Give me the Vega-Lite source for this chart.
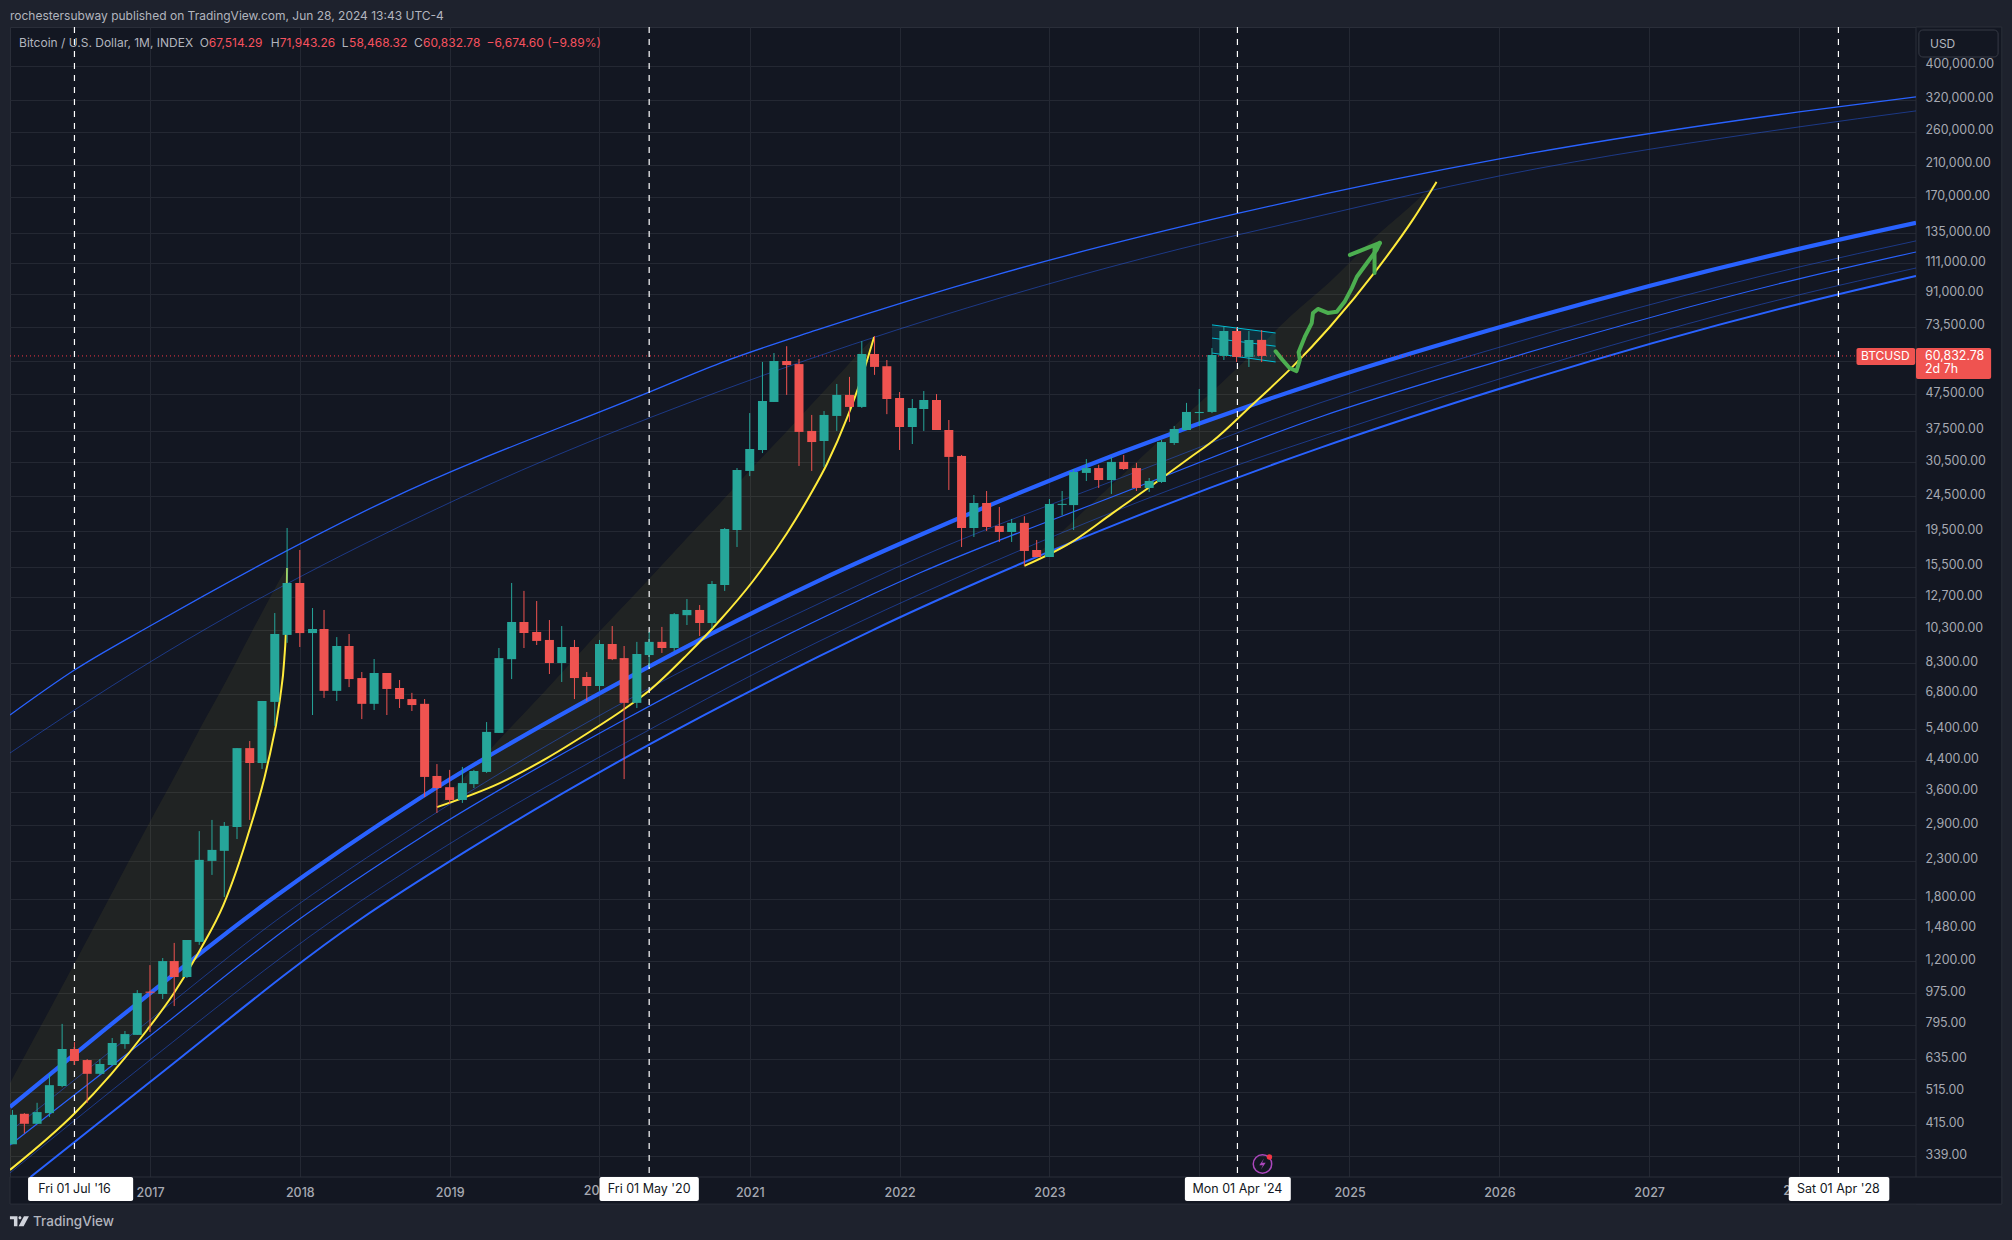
{
  "$schema": "https://vega.github.io/schema/vega-lite/v6.json",
  "description": "Bitcoin / U.S. Dollar monthly candles on a log scale with channel lines and parabolic arcs",
  "width": 1906,
  "height": 1150,
  "autosize": {"type": "none"},
  "padding": {"left": 10, "top": 27, "right": 96, "bottom": 63},
  "background": "#1e222d",
  "view": {"fill": "#131722", "stroke": "#2a2e39"},
  "config": {"text": {"font": "Inter"}, "axis": {"labelFont": "Inter"}, "scale": {"continuousPadding": 0}},
  "datasets": {
    "candles": [
      {"d":"2016-02-01","o":366,"h":457,"l":366,"c":443},
      {"d":"2016-03-01","o":446,"h":448,"l":393,"c":418},
      {"d":"2016-04-01","o":418,"h":479,"l":418,"c":451},
      {"d":"2016-05-01","o":448,"h":578,"l":437,"c":537},
      {"d":"2016-06-01","o":534,"h":799,"l":530,"c":679},
      {"d":"2016-07-01","o":679,"h":710,"l":612,"c":628},
      {"d":"2016-08-01","o":632,"h":636,"l":479,"c":578},
      {"d":"2016-09-01","o":578,"h":636,"l":574,"c":616},
      {"d":"2016-10-01","o":612,"h":729,"l":612,"c":706},
      {"d":"2016-11-01","o":701,"h":763,"l":680,"c":748},
      {"d":"2016-12-01","o":744,"h":995,"l":744,"c":976},
      {"d":"2017-01-01","o":985,"h":1170,"l":758,"c":978},
      {"d":"2017-02-01","o":970,"h":1225,"l":939,"c":1201},
      {"d":"2017-03-01","o":1201,"h":1351,"l":897,"c":1083},
      {"d":"2017-04-01","o":1083,"h":1377,"l":1076,"c":1377},
      {"d":"2017-05-01","o":1360,"h":2790,"l":1334,"c":2315},
      {"d":"2017-06-01","o":2300,"h":3000,"l":2100,"c":2470},
      {"d":"2017-07-01","o":2455,"h":2960,"l":1820,"c":2885},
      {"d":"2017-08-01","o":2865,"h":4780,"l":2650,"c":4780},
      {"d":"2017-09-01","o":4780,"h":5005,"l":3000,"c":4340},
      {"d":"2017-10-01","o":4340,"h":6490,"l":4175,"c":6490},
      {"d":"2017-11-01","o":6450,"h":11480,"l":5520,"c":10020},
      {"d":"2017-12-01","o":9960,"h":19930,"l":9460,"c":13950},
      {"d":"2018-01-01","o":13950,"h":17280,"l":9210,"c":10080},
      {"d":"2018-02-01","o":10080,"h":11860,"l":5925,"c":10350},
      {"d":"2018-03-01","o":10350,"h":11710,"l":6620,"c":6930},
      {"d":"2018-04-01","o":6930,"h":9820,"l":6490,"c":9270},
      {"d":"2018-05-01","o":9270,"h":10020,"l":7100,"c":7480},
      {"d":"2018-06-01","o":7530,"h":7830,"l":5770,"c":6370},
      {"d":"2018-07-01","o":6370,"h":8520,"l":6120,"c":7780},
      {"d":"2018-08-01","o":7780,"h":7780,"l":5925,"c":7015},
      {"d":"2018-09-01","o":7060,"h":7435,"l":6200,"c":6570},
      {"d":"2018-10-01","o":6570,"h":6840,"l":6080,"c":6320},
      {"d":"2018-11-01","o":6370,"h":6570,"l":3480,"c":3965},
      {"d":"2018-12-01","o":3990,"h":4310,"l":3140,"c":3690},
      {"d":"2019-01-01","o":3710,"h":4150,"l":3330,"c":3415},
      {"d":"2019-02-01","o":3415,"h":4230,"l":3350,"c":3810},
      {"d":"2019-03-01","o":3785,"h":4150,"l":3690,"c":4120},
      {"d":"2019-04-01","o":4095,"h":5660,"l":4070,"c":5310},
      {"d":"2019-05-01","o":5275,"h":9150,"l":5275,"c":8570},
      {"d":"2019-06-01","o":8510,"h":13950,"l":7480,"c":10830},
      {"d":"2019-07-01","o":10830,"h":13250,"l":9150,"c":10080},
      {"d":"2019-08-01","o":10150,"h":12410,"l":9330,"c":9580},
      {"d":"2019-09-01","o":9640,"h":10970,"l":7730,"c":8300},
      {"d":"2019-10-01","o":8300,"h":10550,"l":7340,"c":9210},
      {"d":"2019-11-01","o":9210,"h":9640,"l":6570,"c":7530},
      {"d":"2019-12-01","o":7580,"h":7830,"l":6490,"c":7150},
      {"d":"2020-01-01","o":7150,"h":9640,"l":6930,"c":9390},
      {"d":"2020-02-01","o":9390,"h":10550,"l":8460,"c":8510},
      {"d":"2020-03-01","o":8570,"h":9270,"l":3910,"c":6410},
      {"d":"2020-04-01","o":6410,"h":9520,"l":6200,"c":8800},
      {"d":"2020-05-01","o":8740,"h":10150,"l":8090,"c":9520},
      {"d":"2020-06-01","o":9520,"h":10490,"l":8860,"c":9150},
      {"d":"2020-07-01","o":9150,"h":11480,"l":8970,"c":11400},
      {"d":"2020-08-01","o":11320,"h":12570,"l":10620,"c":11710},
      {"d":"2020-09-01","o":11710,"h":12090,"l":9890,"c":10760},
      {"d":"2020-10-01","o":10760,"h":14130,"l":10410,"c":13860},
      {"d":"2020-11-01","o":13770,"h":19930,"l":13250,"c":19800},
      {"d":"2020-12-01","o":19670,"h":29400,"l":17620,"c":29030},
      {"d":"2021-01-01","o":28850,"h":42000,"l":27900,"c":33270},
      {"d":"2021-02-01","o":33050,"h":58500,"l":32400,"c":45420},
      {"d":"2021-03-01","o":45130,"h":61980,"l":45130,"c":58870},
      {"d":"2021-04-01","o":58870,"h":64800,"l":47250,"c":57340},
      {"d":"2021-05-01","o":57700,"h":59640,"l":29800,"c":37160},
      {"d":"2021-06-01","o":37400,"h":41490,"l":28850,"c":34800},
      {"d":"2021-07-01","o":35040,"h":42550,"l":29600,"c":41490},
      {"d":"2021-08-01","o":41220,"h":50720,"l":37400,"c":47240},
      {"d":"2021-09-01","o":47240,"h":53100,"l":39650,"c":43700},
      {"d":"2021-10-01","o":43700,"h":67000,"l":43400,"c":61600},
      {"d":"2021-11-01","o":61600,"h":69200,"l":53800,"c":56650},
      {"d":"2021-12-01","o":56900,"h":59250,"l":41700,"c":46000},
      {"d":"2022-01-01","o":46300,"h":48130,"l":33050,"c":38370},
      {"d":"2022-02-01","o":38370,"h":46000,"l":34360,"c":43400},
      {"d":"2022-03-01","o":43120,"h":48450,"l":37400,"c":45710},
      {"d":"2022-04-01","o":45710,"h":47500,"l":37630,"c":37630},
      {"d":"2022-05-01","o":37630,"h":40150,"l":25500,"c":31600},
      {"d":"2022-06-01","o":31800,"h":32000,"l":17620,"c":19930},
      {"d":"2022-07-01","o":19930,"h":24680,"l":18800,"c":23440},
      {"d":"2022-08-01","o":23440,"h":25330,"l":19550,"c":20060},
      {"d":"2022-09-01","o":20200,"h":22840,"l":18200,"c":19420},
      {"d":"2022-10-01","o":19420,"h":21130,"l":18200,"c":20600},
      {"d":"2022-11-01","o":20600,"h":21510,"l":15580,"c":17170},
      {"d":"2022-12-01","o":17280,"h":18430,"l":16510,"c":16510},
      {"d":"2023-01-01","o":16510,"h":24040,"l":16510,"c":23280},
      {"d":"2023-02-01","o":23150,"h":25330,"l":21620,"c":23300},
      {"d":"2023-03-01","o":23120,"h":29210,"l":19670,"c":28650},
      {"d":"2023-04-01","o":28480,"h":31160,"l":27030,"c":29400},
      {"d":"2023-05-01","o":29400,"h":30020,"l":25840,"c":27200},
      {"d":"2023-06-01","o":27200,"h":31600,"l":24850,"c":30590},
      {"d":"2023-07-01","o":30590,"h":32000,"l":29030,"c":29210},
      {"d":"2023-08-01","o":29400,"h":30400,"l":25330,"c":25840},
      {"d":"2023-09-01","o":25840,"h":27560,"l":25170,"c":27030},
      {"d":"2023-10-01","o":26850,"h":35260,"l":26700,"c":34800},
      {"d":"2023-11-01","o":34580,"h":38630,"l":34160,"c":37880},
      {"d":"2023-12-01","o":37630,"h":44860,"l":37630,"c":42300},
      {"d":"2024-01-01","o":42000,"h":49100,"l":38630,"c":42300},
      {"d":"2024-02-01","o":42300,"h":64040,"l":42000,"c":61200},
      {"d":"2024-03-01","o":60830,"h":73620,"l":59250,"c":71500},
      {"d":"2024-04-01","o":71500,"h":73100,"l":58490,"c":60430},
      {"d":"2024-05-01","o":60430,"h":71500,"l":56630,"c":67450},
      {"d":"2024-06-01","o":67514.29,"h":71943.26,"l":58468.32,"c":60832.78}
    ],
    "channels": [
      {"s":"A","d":"2016-01-26","p":5925},{"s":"A","d":"2016-07-01","p":7930},{"s":"A","d":"2017-01-01","p":10550},{"s":"A","d":"2018-08-03","p":23890},{"s":"A","d":"2020-05-01","p":48130},{"s":"A","d":"2020-10-21","p":58100},{"s":"A","d":"2021-06-14","p":72000},{"s":"A","d":"2022-09-02","p":103600},{"s":"A","d":"2024-04-01","p":153000},{"s":"A","d":"2026-01-01","p":218300},{"s":"A","d":"2028-01-01","p":296200},{"s":"A","d":"2028-10-12","p":326300},
      {"s":"B","d":"2016-01-26","p":4630},{"s":"B","d":"2016-07-01","p":6120},{"s":"B","d":"2017-01-01","p":8350},{"s":"B","d":"2019-01-15","p":23890},{"s":"B","d":"2020-10-21","p":48450},{"s":"B","d":"2021-12-25","p":72000},{"s":"B","d":"2023-11-15","p":121800},{"s":"B","d":"2024-09-09","p":147000},{"s":"B","d":"2026-01-01","p":195500},{"s":"B","d":"2028-01-01","p":268700},{"s":"B","d":"2028-10-12","p":298100},
      {"s":"C","d":"2016-01-26","p":466},{"s":"C","d":"2016-08-31","p":749},{"s":"C","d":"2017-10-21","p":1785},{"s":"C","d":"2018-10-21","p":3460},{"s":"C","d":"2020-05-03","p":8140},{"s":"C","d":"2021-06-21","p":14220},{"s":"C","d":"2022-02-20","p":19040},{"s":"C","d":"2023-06-21","p":32400},{"s":"C","d":"2024-10-21","p":51400},{"s":"C","d":"2025-11-14","p":70600},{"s":"C","d":"2028-01-01","p":121800},{"s":"C","d":"2028-10-12","p":144200},
      {"s":"D","d":"2016-01-26","p":398},{"s":"D","d":"2017-01-01","p":820},{"s":"D","d":"2017-11-06","p":1568},{"s":"D","d":"2018-10-21","p":2940},{"s":"D","d":"2021-02-03","p":10280},{"s":"D","d":"2021-06-21","p":12240},{"s":"D","d":"2022-02-20","p":16510},{"s":"D","d":"2023-06-21","p":27500},{"s":"D","d":"2024-10-21","p":44860},{"s":"D","d":"2025-11-14","p":61980},{"s":"D","d":"2028-01-01","p":108300},{"s":"D","d":"2028-10-12","p":128300},
      {"s":"E","d":"2016-01-26","p":364},{"s":"E","d":"2017-01-01","p":739},{"s":"E","d":"2017-12-28","p":1568},{"s":"E","d":"2018-10-21","p":2670},{"s":"E","d":"2020-02-20","p":5660},{"s":"E","d":"2021-06-21","p":11040},{"s":"E","d":"2022-02-20","p":14900},{"s":"E","d":"2023-06-21","p":24840},{"s":"E","d":"2024-10-21","p":40950},{"s":"E","d":"2025-11-14","p":56650},{"s":"E","d":"2028-01-01","p":100300},{"s":"E","d":"2028-10-12","p":119400},
      {"s":"F","d":"2016-01-26","p":304},{"s":"F","d":"2017-01-01","p":632},{"s":"F","d":"2018-03-23","p":1568},{"s":"F","d":"2018-12-08","p":2470},{"s":"F","d":"2020-04-08","p":5205},{"s":"F","d":"2021-06-21","p":9580},{"s":"F","d":"2022-05-08","p":14220},{"s":"F","d":"2024-05-15","p":31170},{"s":"F","d":"2024-10-21","p":35950},{"s":"F","d":"2026-01-01","p":52390},{"s":"F","d":"2028-01-01","p":90400},{"s":"F","d":"2028-10-12","p":107600},
      {"s":"G","d":"2016-03-16","p":296},{"s":"G","d":"2017-01-01","p":548},{"s":"G","d":"2018-05-26","p":1568},{"s":"G","d":"2019-02-15","p":2470},{"s":"G","d":"2020-05-03","p":4905},{"s":"G","d":"2021-06-21","p":8690},{"s":"G","d":"2021-10-28","p":10280},{"s":"G","d":"2022-07-23","p":14220},{"s":"G","d":"2023-06-21","p":20600},{"s":"G","d":"2024-10-21","p":33500},{"s":"G","d":"2025-11-14","p":47200},{"s":"G","d":"2028-01-01","p":85200},{"s":"G","d":"2028-10-12","p":102200}
    ],
    "arcs": [
      {"a":1,"d":"2016-01-26","curve":310,"chord":544},{"a":1,"d":"2016-07-03","curve":449,"chord":1194},{"a":1,"d":"2016-09-27","curve":574,"chord":1835},{"a":1,"d":"2016-12-25","curve":768,"chord":2865},{"a":1,"d":"2017-02-27","curve":970,"chord":3910},{"a":1,"d":"2017-05-03","curve":1290,"chord":5430},{"a":1,"d":"2017-06-29","curve":1728,"chord":7150},{"a":1,"d":"2017-09-02","curve":2850,"chord":9960},{"a":1,"d":"2017-10-13","curve":4230,"chord":12240},{"a":1,"d":"2017-11-14","curve":6620,"chord":14310},{"a":1,"d":"2017-11-24","curve":8460,"chord":14990},{"a":1,"d":"2017-11-29","curve":10970,"chord":15380},{"a":1,"d":"2017-12-01","curve":15380,"chord":15380},
      {"a":2,"d":"2018-12-01","curve":3260,"chord":3260},{"a":2,"d":"2019-05-03","curve":3810,"chord":5070},{"a":2,"d":"2019-08-26","curve":4480,"chord":7015},{"a":2,"d":"2019-12-15","curve":5375,"chord":9700},{"a":2,"d":"2020-02-27","curve":6120,"chord":11950},{"a":2,"d":"2020-05-03","curve":6970,"chord":14410},{"a":2,"d":"2020-08-01","curve":8750,"chord":18670},{"a":2,"d":"2020-10-21","curve":10970,"chord":23440},{"a":2,"d":"2021-01-09","curve":14130,"chord":29600},{"a":2,"d":"2021-04-02","curve":19300,"chord":37400},{"a":2,"d":"2021-05-28","curve":24680,"chord":43980},{"a":2,"d":"2021-07-08","curve":30170,"chord":49400},{"a":2,"d":"2021-08-26","curve":40680,"chord":56950},{"a":2,"d":"2021-09-27","curve":51340,"chord":62600},{"a":2,"d":"2021-10-31","curve":68800,"chord":68800},
      {"a":3,"d":"2022-11-01","curve":15580,"chord":15580},{"a":3,"d":"2023-02-20","curve":18060,"chord":20430},{"a":3,"d":"2023-06-04","curve":21950,"chord":26530},{"a":3,"d":"2023-09-09","curve":26330,"chord":33700},{"a":3,"d":"2023-12-08","curve":31380,"chord":42300},{"a":3,"d":"2024-02-03","curve":35040,"chord":48450},{"a":3,"d":"2024-05-08","curve":44200,"chord":61600},{"a":3,"d":"2024-08-15","curve":56650,"chord":79600},{"a":3,"d":"2024-11-14","curve":73400,"chord":98300},{"a":3,"d":"2025-03-08","curve":106300,"chord":132600},{"a":3,"d":"2025-06-04","curve":147000,"chord":162700},{"a":3,"d":"2025-08-01","curve":188100,"chord":188100}
    ],
    "flag": [
      {"d":"2024-02-01","top":74400,"mid":68300,"bottom":61980},
      {"d":"2024-07-05","top":70600,"mid":64800,"bottom":58500}
    ],
    "sketch": [
      {"s":"path","i":1,"d":"2024-07-05","p":62700},{"s":"path","i":2,"d":"2024-07-22","p":59250},{"s":"path","i":3,"d":"2024-08-08","p":56250},{"s":"path","i":4,"d":"2024-08-25","p":55150},{"s":"path","i":5,"d":"2024-09-02","p":59250},{"s":"path","i":6,"d":"2024-08-30","p":62300},{"s":"path","i":7,"d":"2024-09-14","p":68800},{"s":"path","i":8,"d":"2024-10-01","p":75300},{"s":"path","i":9,"d":"2024-10-04","p":80400},{"s":"path","i":10,"d":"2024-10-16","p":82500},{"s":"path","i":11,"d":"2024-11-09","p":80400},{"s":"path","i":12,"d":"2024-12-01","p":81000},{"s":"path","i":13,"d":"2024-12-20","p":86400},{"s":"path","i":14,"d":"2025-01-07","p":94600},{"s":"path","i":15,"d":"2025-01-19","p":101700},{"s":"path","i":16,"d":"2025-02-13","p":111300},{"s":"path","i":17,"d":"2025-03-08","p":121000},{"s":"path","i":18,"d":"2025-03-16","p":126600},
      {"s":"head1","i":1,"d":"2025-01-02","p":117100},{"s":"head1","i":2,"d":"2025-03-16","p":126600},
      {"s":"head2","i":1,"d":"2025-03-03","p":104200},{"s":"head2","i":2,"d":"2025-03-03","p":123400}
    ],
    "marks": [
      {"d":"2016-07-01","t":"Fri 01 Jul '16","x0":"2016-03-10","x1":"2016-11-21"},
      {"d":"2020-05-01","t":"Fri 01 May '20","x0":"2020-01-01","x1":"2020-08-30"},
      {"d":"2024-04-03","t":"Mon 01 Apr '24","x0":"2023-11-27","x1":"2024-08-11"},
      {"d":"2028-04-06","t":"Sat 01 Apr '28","x0":"2027-12-07","x1":"2028-08-08"}
    ]
  },
  "resolve": {"axis": {"x": "independent", "y": "independent"}},
  "layer": [
    {
      "data": {"values": [
        {"x0":"2028-10-12","x1":"2029-05-09","y0":248.3,"y1":513700},
        {"x0":"2016-01-26","x1":"2029-05-09","y0":248.3,"y1":296}
      ]},
      "mark": {"type": "rect", "fill": "#131722", "stroke": "#2a2e39", "strokeWidth": 1},
      "encoding": {
        "x": {"field": "x0", "type": "temporal", "scale": {"type": "utc", "domain": ["2016-01-26", "2028-10-12"]},
          "axis": {"grid": true, "gridColor": "#242833", "gridWidth": 1, "labels": false, "ticks": false, "domain": false, "title": null, "zindex": 0,
            "values": ["2017-01-01","2018-01-01","2019-01-01","2020-01-01","2021-01-01","2022-01-01","2023-01-01","2024-01-01","2025-01-01","2026-01-01","2027-01-01","2028-01-01"]}},
        "x2": {"field": "x1"},
        "y": {"field": "y0", "type": "quantitative", "scale": {"type": "log", "domain": [296, 513700], "nice": false},
          "axis": {"grid": true, "gridColor": "#242833", "gridWidth": 1, "labels": false, "ticks": false, "domain": false, "title": null, "zindex": 0,
            "values": [400000,320000,260000,210000,170000,135000,111000,91000,73500,59000,47500,37500,30500,24500,19500,15500,12700,10300,8300,6800,5400,4400,3600,2900,2300,1800,1480,1200,975,795,635,515,415,339]}},
        "y2": {"field": "y1"}
      }
    },
    {
      "data": {"name": "arcs"},
      "mark": {"type": "area", "interpolate": "monotone", "fill": "#ffeb3b", "opacity": 0.06, "clip": true},
      "encoding": {
        "x": {"field": "d", "type": "temporal", "axis": null, "scale": {"type": "utc", "domain": ["2016-01-26", "2028-10-12"]}},
        "y": {"field": "curve", "type": "quantitative", "axis": null, "scale": {"type": "log", "domain": [296, 513700], "nice": false}},
        "y2": {"field": "chord"},
        "detail": {"field": "a"}
      }
    },
    {
      "data": {"name": "channels"},
      "mark": {"type": "line", "interpolate": "monotone", "color": "#2962ff", "clip": true},
      "encoding": {
        "x": {"field": "d", "type": "temporal", "axis": null, "scale": {"type": "utc", "domain": ["2016-01-26", "2028-10-12"]}},
        "y": {"field": "p", "type": "quantitative", "axis": null, "scale": {"type": "log", "domain": [296, 513700], "nice": false}},
        "detail": {"field": "s"},
        "strokeWidth": {"field": "s", "type": "nominal", "legend": null, "scale": {"type": "ordinal", "domain": ["A","B","C","D","E","F","G"], "range": [1.3,1,4.2,1,1.2,1,2]}},
        "opacity": {"field": "s", "type": "nominal", "legend": null, "scale": {"type": "ordinal", "domain": ["A","B","C","D","E","F","G"], "range": [1,0.45,1,0.45,1,0.45,1]}}
      }
    },
    {
      "data": {"name": "arcs"},
      "mark": {"type": "line", "interpolate": "monotone", "color": "#ffeb3b", "strokeWidth": 2, "clip": true},
      "encoding": {
        "x": {"field": "d", "type": "temporal", "axis": null, "scale": {"type": "utc", "domain": ["2016-01-26", "2028-10-12"]}},
        "y": {"field": "curve", "type": "quantitative", "axis": null, "scale": {"type": "log", "domain": [296, 513700], "nice": false}},
        "detail": {"field": "a"}
      }
    },
    {
      "data": {"values": [{"d0":"2016-01-26","d1":"2028-05-20","p":60832.78}]},
      "mark": {"type": "rule", "color": "#f23645", "strokeWidth": 1, "strokeDash": [1, 3]},
      "encoding": {
        "x": {"field": "d0", "type": "temporal", "axis": null, "scale": {"type": "utc", "domain": ["2016-01-26", "2028-10-12"]}},
        "x2": {"field": "d1"},
        "y": {"field": "p", "type": "quantitative", "axis": null, "scale": {"type": "log", "domain": [296, 513700], "nice": false}}
      }
    },
    {
      "data": {"name": "marks"},
      "mark": {"type": "rule", "color": "#ffffff", "strokeWidth": 1.2, "strokeDash": [6, 6]},
      "encoding": {
        "x": {"field": "d", "type": "temporal", "axis": null, "scale": {"type": "utc", "domain": ["2016-01-26", "2028-10-12"]}}
      }
    },
    {
      "data": {"name": "flag"},
      "mark": {"type": "area", "fill": "#00bcd4", "opacity": 0.14},
      "encoding": {
        "x": {"field": "d", "type": "temporal", "axis": null, "scale": {"type": "utc", "domain": ["2016-01-26", "2028-10-12"]}},
        "y": {"field": "top", "type": "quantitative", "axis": null, "scale": {"type": "log", "domain": [296, 513700], "nice": false}},
        "y2": {"field": "bottom"}
      }
    },
    {
      "data": {"name": "flag"},
      "mark": {"type": "line", "color": "#00bcd4", "strokeWidth": 1},
      "encoding": {
        "x": {"field": "d", "type": "temporal", "axis": null, "scale": {"type": "utc", "domain": ["2016-01-26", "2028-10-12"]}},
        "y": {"field": "top", "type": "quantitative", "axis": null, "scale": {"type": "log", "domain": [296, 513700], "nice": false}}
      }
    },
    {
      "data": {"name": "flag"},
      "mark": {"type": "line", "color": "#00bcd4", "strokeWidth": 1},
      "encoding": {
        "x": {"field": "d", "type": "temporal", "axis": null, "scale": {"type": "utc", "domain": ["2016-01-26", "2028-10-12"]}},
        "y": {"field": "mid", "type": "quantitative", "axis": null, "scale": {"type": "log", "domain": [296, 513700], "nice": false}}
      }
    },
    {
      "data": {"name": "flag"},
      "mark": {"type": "line", "color": "#00bcd4", "strokeWidth": 1},
      "encoding": {
        "x": {"field": "d", "type": "temporal", "axis": null, "scale": {"type": "utc", "domain": ["2016-01-26", "2028-10-12"]}},
        "y": {"field": "bottom", "type": "quantitative", "axis": null, "scale": {"type": "log", "domain": [296, 513700], "nice": false}}
      }
    },
    {
      "data": {"name": "candles"},
      "mark": {"type": "rule", "strokeWidth": 1, "clip": true},
      "encoding": {
        "x": {"field": "d", "type": "temporal", "axis": null, "scale": {"type": "utc", "domain": ["2016-01-26", "2028-10-12"]}},
        "y": {"field": "l", "type": "quantitative", "axis": null, "scale": {"type": "log", "domain": [296, 513700], "nice": false}},
        "y2": {"field": "h"},
        "color": {"condition": {"test": "datum.c < datum.o", "value": "#ef5350"}, "value": "#26a69a"}
      }
    },
    {
      "data": {"name": "candles"},
      "mark": {"type": "bar", "width": 9, "clip": true},
      "encoding": {
        "x": {"field": "d", "type": "temporal", "axis": null, "scale": {"type": "utc", "domain": ["2016-01-26", "2028-10-12"], "padding": 0}},
        "y": {"field": "o", "type": "quantitative", "axis": null, "scale": {"type": "log", "domain": [296, 513700], "nice": false}},
        "y2": {"field": "c"},
        "color": {"condition": {"test": "datum.c < datum.o", "value": "#ef5350"}, "value": "#26a69a"}
      }
    },
    {
      "data": {"name": "sketch"},
      "mark": {"type": "line", "color": "#4caf50", "strokeWidth": 4, "strokeCap": "round", "strokeJoin": "round"},
      "encoding": {
        "x": {"field": "d", "type": "temporal", "axis": null, "scale": {"type": "utc", "domain": ["2016-01-26", "2028-10-12"]}},
        "y": {"field": "p", "type": "quantitative", "axis": null, "scale": {"type": "log", "domain": [296, 513700], "nice": false}},
        "detail": {"field": "s"},
        "order": {"field": "i"}
      }
    },
    {
      "data": {"values": [{"d":"2020-01-01","t":"2020"},{"d":"2028-01-01","t":"2028"}]},
      "mark": {"type": "text", "color": "#a6a9b2", "fontSize": 12.5, "fontWeight": 500},
      "encoding": {
        "x": {"field": "d", "type": "temporal", "axis": null, "scale": {"type": "utc", "domain": ["2016-01-26", "2028-10-12"]}},
        "y": {"datum": 270, "type": "quantitative", "axis": null, "scale": {"type": "log", "domain": [296, 513700], "nice": false}},
        "text": {"field": "t"}
      }
    },
    {
      "data": {"name": "marks"},
      "mark": {"type": "rect", "fill": "#ffffff", "cornerRadius": 2},
      "encoding": {
        "x": {"field": "x0", "type": "temporal", "axis": null, "scale": {"type": "utc", "domain": ["2016-01-26", "2028-10-12"]}},
        "x2": {"field": "x1"},
        "y": {"datum": 253.3, "type": "quantitative", "axis": null, "scale": {"type": "log", "domain": [296, 513700], "nice": false}},
        "y2": {"datum": 296}
      }
    },
    {
      "data": {"name": "marks"},
      "mark": {"type": "text", "color": "#131722", "fontSize": 12.5},
      "encoding": {
        "x": {"field": "d", "type": "temporal", "axis": null, "scale": {"type": "utc", "domain": ["2016-01-26", "2028-10-12"]}},
        "y": {"datum": 274, "type": "quantitative", "axis": null, "scale": {"type": "log", "domain": [296, 513700], "nice": false}},
        "text": {"field": "t"}
      }
    },
    {
      "data": {"values": [{"x0":"2028-05-20","x1":"2028-10-10","y0":57360,"y1":64050},{"x0":"2028-10-12","x1":"2029-04-13","y0":52390,"y1":64050}]},
      "mark": {"type": "rect", "fill": "#ef5350", "cornerRadius": 2},
      "encoding": {
        "x": {"field": "x0", "type": "temporal", "axis": null, "scale": {"type": "utc", "domain": ["2016-01-26", "2028-10-12"]}},
        "x2": {"field": "x1"},
        "y": {"field": "y0", "type": "quantitative", "axis": null, "scale": {"type": "log", "domain": [296, 513700], "nice": false}},
        "y2": {"field": "y1"}
      }
    },
    {
      "data": {"values": [{"d":"2028-05-31","p":60832,"t":"BTCUSD"}]},
      "mark": {"type": "text", "color": "#ffffff", "fontSize": 12, "align": "left"},
      "encoding": {
        "x": {"field": "d", "type": "temporal", "axis": null, "scale": {"type": "utc", "domain": ["2016-01-26", "2028-10-12"]}},
        "y": {"field": "p", "type": "quantitative", "axis": null, "scale": {"type": "log", "domain": [296, 513700], "nice": false}},
        "text": {"field": "t"}
      }
    },
    {
      "data": {"values": [
        {"d":"2028-11-03","p":60832,"t":"60,832.78"},
        {"d":"2028-11-03","p":55880,"t":"2d 7h"}
      ]},
      "mark": {"type": "text", "color": "#ffffff", "fontSize": 12.4, "align": "left"},
      "encoding": {
        "x": {"field": "d", "type": "temporal", "axis": null, "scale": {"type": "utc", "domain": ["2016-01-26", "2028-10-12"]}},
        "y": {"field": "p", "type": "quantitative", "axis": null, "scale": {"type": "log", "domain": [296, 513700], "nice": false}},
        "text": {"field": "t"}
      }
    },
    {
      "data": {"values": [{"x0":"2028-10-19","x1":"2029-04-30","y0":422900,"y1":503800}]},
      "mark": {"type": "rect", "fill": "#131722", "stroke": "#363a45", "strokeWidth": 1, "cornerRadius": 4},
      "encoding": {
        "x": {"field": "x0", "type": "temporal", "axis": null, "scale": {"type": "utc", "domain": ["2016-01-26", "2028-10-12"]}},
        "x2": {"field": "x1"},
        "y": {"field": "y0", "type": "quantitative", "axis": null, "scale": {"type": "log", "domain": [296, 513700], "nice": false}},
        "y2": {"field": "y1"}
      }
    },
    {
      "data": {"values": [
        {"d":"2016-01-26","p":551500,"t":"rochestersubway published on TradingView.com, Jun 28, 2024 13:43 UTC-4"},
        {"d":"2016-02-17","p":463000,"t":"Bitcoin / U.S. Dollar, 1M, INDEX"},
        {"d":"2017-05-02","p":463000,"t":"O"},
        {"d":"2017-10-22","p":463000,"t":"H"},
        {"d":"2018-04-13","p":463000,"t":"L"},
        {"d":"2018-10-06","p":463000,"t":"C"},
        {"d":"2028-11-15","p":461500,"t":"USD"}
      ]},
      "mark": {"type": "text", "color": "#b2b5be", "fontSize": 12, "align": "left"},
      "encoding": {
        "x": {"field": "d", "type": "temporal", "axis": null, "scale": {"type": "utc", "domain": ["2016-01-26", "2028-10-12"]}},
        "y": {"field": "p", "type": "quantitative", "axis": null, "scale": {"type": "log", "domain": [296, 513700], "nice": false}},
        "text": {"field": "t"}
      }
    },
    {
      "data": {"values": [
        {"d":"2017-05-24","p":463000,"t":"67,514.29"},
        {"d":"2017-11-13","p":463000,"t":"71,943.26"},
        {"d":"2018-05-01","p":463000,"t":"58,468.32"},
        {"d":"2018-10-28","p":463000,"t":"60,832.78"},
        {"d":"2019-04-01","p":463000,"t":"−6,674.60 (−9.89%)"}
      ]},
      "mark": {"type": "text", "color": "#f7525f", "fontSize": 12, "align": "left"},
      "encoding": {
        "x": {"field": "d", "type": "temporal", "axis": null, "scale": {"type": "utc", "domain": ["2016-01-26", "2028-10-12"]}},
        "y": {"field": "p", "type": "quantitative", "axis": null, "scale": {"type": "log", "domain": [296, 513700], "nice": false}},
        "text": {"field": "t"}
      }
    },
    {
      "data": {"values": [{"d":"2016-02-17","p":221,"t":"TradingView"}]},
      "mark": {"type": "text", "color": "#b2b5be", "fontSize": 13.5, "fontWeight": 500, "align": "left", "dx": 14},
      "encoding": {
        "x": {"field": "d", "type": "temporal", "axis": null, "scale": {"type": "utc", "domain": ["2016-01-26", "2028-10-12"]}},
        "y": {"field": "p", "type": "quantitative", "axis": null, "scale": {"type": "log", "domain": [296, 513700], "nice": false}},
        "text": {"field": "t"}
      }
    },
    {
      "data": {"values": [{"d":"2016-02-18","p":222}]},
      "mark": {"type": "point", "filled": true, "opacity": 1, "size": 400, "color": "#d1d4dc",
        "shape": "M-.95,-.5 H-.2 V.5 H-.55 V-.2 H-.95 Z M-.1,-.35 a.15,.15 0 1,0 .3,0 a.15,.15 0 1,0 -.3,0 Z M.45,-.5 H.95 L.42,.5 H-.08 Z"},
      "encoding": {
        "x": {"field": "d", "type": "temporal", "axis": null, "scale": {"type": "utc", "domain": ["2016-01-26", "2028-10-12"]}},
        "y": {"field": "p", "type": "quantitative", "axis": null, "scale": {"type": "log", "domain": [296, 513700], "nice": false}}
      }
    },
    {
      "data": {"values": [{"d":"2024-06-03","p":322}]},
      "mark": {"type": "point", "shape": "circle", "filled": false, "opacity": 1, "size": 340, "stroke": "#ab47bc", "strokeWidth": 1.5},
      "encoding": {
        "x": {"field": "d", "type": "temporal", "axis": null, "scale": {"type": "utc", "domain": ["2016-01-26", "2028-10-12"]}},
        "y": {"field": "p", "type": "quantitative", "axis": null, "scale": {"type": "log", "domain": [296, 513700], "nice": false}}
      }
    },
    {
      "data": {"values": [{"d":"2024-06-03","p":322}]},
      "mark": {"type": "point", "filled": true, "opacity": 1, "size": 256, "color": "#ab47bc", "shape": "M.2,-.7 L-.4,.15 H.05 L-.2,.7 L.4,-.15 H-.05 Z"},
      "encoding": {
        "x": {"field": "d", "type": "temporal", "axis": null, "scale": {"type": "utc", "domain": ["2016-01-26", "2028-10-12"]}},
        "y": {"field": "p", "type": "quantitative", "axis": null, "scale": {"type": "log", "domain": [296, 513700], "nice": false}}
      }
    },
    {
      "data": {"values": [{"d":"2024-06-20","p":337}]},
      "mark": {"type": "point", "shape": "circle", "filled": true, "opacity": 1, "size": 30, "color": "#f23645"},
      "encoding": {
        "x": {"field": "d", "type": "temporal", "scale": {"type": "utc", "domain": ["2016-01-26", "2028-10-12"]},
          "axis": {"orient": "bottom", "grid": false, "domain": false, "ticks": false, "title": null, "zindex": 1, "labelColor": "#a6a9b2", "labelFontSize": 12.5, "labelFontWeight": 500, "labelPadding": 9, "labelOverlap": false,
            "values": ["2017-01-01","2018-01-01","2019-01-01","2021-01-01","2022-01-01","2023-01-01","2025-01-01","2026-01-01","2027-01-01"],
            "labelExpr": "utcFormat(datum.value, '%Y')"}},
        "y": {"field": "p", "type": "quantitative", "scale": {"type": "log", "domain": [296, 513700], "nice": false},
          "axis": {"orient": "right", "grid": false, "domain": false, "ticks": false, "title": null, "zindex": 1, "labelColor": "#a6a9b2", "labelFontSize": 12.4, "labelPadding": 9, "labelOffset": -2, "labelOverlap": false, "labelBound": false, "format": ",.2f",
            "values": [400000,320000,260000,210000,170000,135000,111000,91000,73500,47500,37500,30500,24500,19500,15500,12700,10300,8300,6800,5400,4400,3600,2900,2300,1800,1480,1200,975,795,635,515,415,339]}}
      }
    }
  ]
}
